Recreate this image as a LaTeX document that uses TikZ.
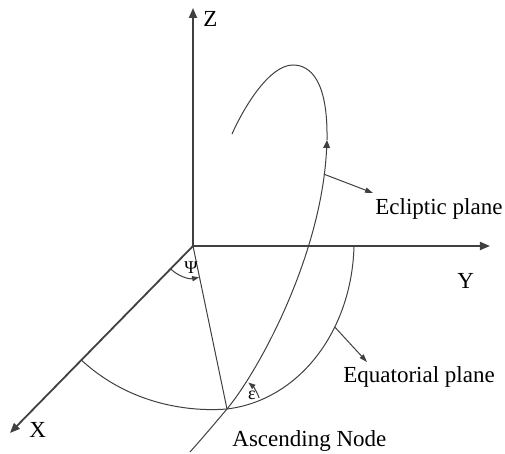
\documentclass[tikz,border=0pt]{standalone}
\usepackage{fontspec}
\setmainfont{Liberation Serif}
\usetikzlibrary{arrows.meta, calc}
\definecolor{linegray}{RGB}{64, 64, 64}

\begin{document}
\begin{tikzpicture}[
  x=0.5pt, y=0.5pt,
  every node/.style={font=\fontsize{11.5}{13}\selectfont},
  axis/.style={line width=0.9pt, draw=linegray, -{Triangle[length=5pt, width=4pt]}},
  curve/.style={line width=0.5pt, draw=linegray},
  pointer/.style={curve, -{Triangle[length=4pt, width=2.6pt]}},
  anglearrow/.style={curve, -{Triangle[length=3.5pt, width=2.6pt]}},
  lbl/.style={anchor=base west, inner sep=0pt},
  greek/.style={font=\fontsize{9}{10}\selectfont, inner sep=0pt}
]
  \useasboundingbox (0,0) rectangle (505,454);

  % Punkte
  \coordinate (O) at (193,208);
  \coordinate (ztip) at (193,446);
  \coordinate (ytip) at (490,208);
  \coordinate (xtip) at (10,21);
  \coordinate (asc) at (227,45);
  \coordinate (eclend) at (373,261);
  \coordinate (equend) at (367,92);

  % Achsen
  \draw[axis] (O) -- (ztip);
  \draw[axis] (O) -- (ytip);
  \draw[axis] (O) -- (xtip);

  % Aequator und Ekliptik
  \draw[curve] ($(O)!0.61!(xtip)$) .. controls (130,49) and (190,42) .. (asc)
    .. controls (300,54) and (352,124) .. (354,208) coordinate[pos=0.65] (equpt);
  \draw[curve, -{Triangle[length=4pt, width=3.4pt]}] (190,2) .. controls (205,19) .. (asc)
    .. controls (260,85) and (322,200) .. (327,314) coordinate[pos=0.9] (eclpt);
  \draw[curve] (327,314) .. controls (328,374) and (310,389) .. (293,389)
    .. controls (270,389) and (245,349) .. (232,320);
  \draw[curve] (O) -- (asc);

  % Winkel
  \draw[anglearrow] ([shift={(225:32)}]O) arc[start angle=225, end angle=281, radius=32];
  \draw[anglearrow] ([shift={(19:34)}]asc) arc[start angle=19, end angle=51, radius=34];
  \node[greek] (psilab) at (191,186) {Ψ};
  \node[greek] (epslab) at (252,59) {ε};

  % Beschriftung
  \node[lbl] (zlab) at (203,427) {Z};
  \node[lbl] (ylab) at (457,165) {Y};
  \node[lbl] (xlab) at (29,16) {X};
  \node[lbl] (asclab) at (232,7) {Ascending Node};
  \node[lbl] (ecllab) at (375,239) {Ecliptic plane};
  \node[lbl] (equlab) at (343,71) {Equatorial plane};

  \draw[pointer] (eclpt) -- (eclend);
  \draw[pointer] (equpt) -- (equend);

\end{tikzpicture}
\end{document}
